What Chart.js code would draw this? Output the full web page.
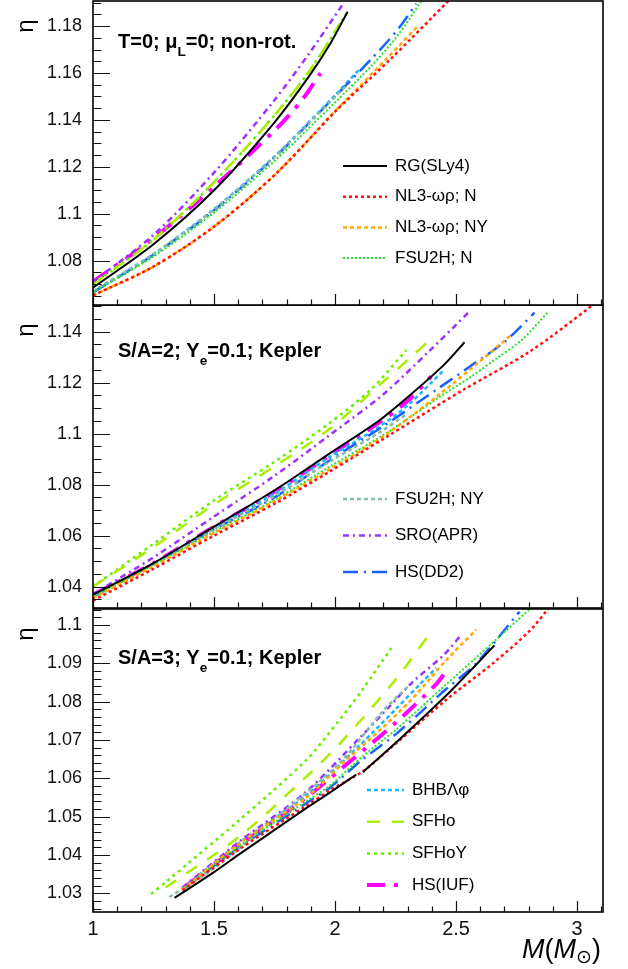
<!DOCTYPE html>
<html>
<head>
<meta charset="utf-8">
<script src="https://cdn.jsdelivr.net/npm/chart.js@4.4.1/dist/chart.umd.min.js"></script>
<style>
  body { margin: 0; background: #fff; width: 628px; height: 969px; position: relative; overflow: hidden; }
  canvas { position: absolute; left: 0; }
</style>
</head>
<body>
<canvas id="c1" width="628" height="306" style="top:0"></canvas>
<canvas id="c2" width="628" height="304" style="top:305px"></canvas>
<canvas id="c3" width="628" height="361" style="top:608px"></canvas>
<script>
// equations of state, in legend order
const eosNames = ['RG(SLy4)', 'NL3-ωρ; N', 'NL3-ωρ; NY', 'FSU2H; N', 'FSU2H; NY', 'SRO(APR)',
  'HS(DD2)', 'BHBΛφ', 'SFHo', 'SFHoY', 'HS(IUF)']

// tick labels
const xTicks = [1, 1.5, 2, 2.5, 3]
const yTicks1 = [1.08, 1.1, 1.12, 1.14, 1.16, 1.18]
const yTicks2 = [1.04, 1.06, 1.08, 1.1, 1.12, 1.14]
const yTicks3 = [1.03, 1.04, 1.05, 1.06, 1.07, 1.08, 1.09, 1.1]

// ---- T=0; mu_L=0; non-rot.   [M, eta]
const t0_rg = [[1, 1.0685], [1.25, 1.087], [1.5, 1.110], [1.75, 1.139], [1.895, 1.159], [1.98, 1.1725], [2.052, 1.1861]]
const t0_nl3_n = [[1, 1.0652], [1.25, 1.0775], [1.5, 1.0945], [1.75, 1.1165], [2.0, 1.1435], [2.06, 1.1495], [2.225, 1.1655], [2.473, 1.1912]]
const t0_nl3_ny = [[1, 1.0652], [1.25, 1.0775], [1.5, 1.0945], [1.75, 1.1165], [2.0, 1.1438], [2.06, 1.150], [2.212, 1.166], [2.34, 1.1797]]
const t0_fsu_n = [[1, 1.0665], [1.25, 1.0818], [1.5, 1.1005], [1.75, 1.1225], [2.0, 1.1475], [2.15, 1.163], [2.255, 1.1755], [2.356, 1.1905]]
const t0_fsu_ny = [[1, 1.067], [1.25, 1.0828], [1.5, 1.1018], [1.75, 1.1242], [2.0, 1.1498], [2.05, 1.155]]
const t0_sro = [[1, 1.071], [1.25, 1.091], [1.5, 1.1175], [1.75, 1.1485], [1.894, 1.1685], [2.03, 1.189]]
const t0_dd2 = [[1, 1.0665], [1.25, 1.0825], [1.5, 1.1015], [1.75, 1.124], [2.0, 1.150], [2.15, 1.166], [2.255, 1.178], [2.335, 1.1895]]
const t0_bhb = [[1, 1.0668], [1.25, 1.0828], [1.5, 1.102], [1.75, 1.1245], [2.0, 1.1505], [2.1, 1.1615]]
const t0_sfho = [[1, 1.070], [1.25, 1.089], [1.5, 1.1135], [1.75, 1.142], [1.895, 1.161], [2.05, 1.1858]]
const t0_sfhoy = [[1, 1.070], [1.25, 1.089], [1.5, 1.1135], [1.75, 1.142], [1.895, 1.161], [2.05, 1.1858]]
const t0_iuf = [[1, 1.071], [1.25, 1.0895], [1.5, 1.1115], [1.75, 1.1355], [1.86, 1.148], [1.94, 1.160]]

// ---- S/A=2; Ye=0.1; Kepler
const s2_rg = [[1, 1.0368], [1.25, 1.0492], [1.5, 1.0635], [1.75, 1.0778], [1.977, 1.0922], [2.184, 1.1053], [2.308, 1.115], [2.45, 1.127], [2.535, 1.1359]]
const s2_nl3_n = [[1, 1.0345], [1.25, 1.047], [1.5, 1.060], [1.75, 1.0725], [1.977, 1.0851], [2.2, 1.098], [2.528, 1.1171], [2.804, 1.1322], [3.065, 1.1505], [3.1, 1.1535]]
const s2_nl3_ny = [[1, 1.0355], [1.25, 1.048], [1.5, 1.061], [1.75, 1.0735], [1.977, 1.086], [2.2, 1.099], [2.432, 1.1155], [2.6, 1.1285], [2.728, 1.1388]]
const s2_fsu_n = [[1, 1.0358], [1.25, 1.0485], [1.5, 1.0615], [1.75, 1.074], [1.977, 1.087], [2.2, 1.0995], [2.432, 1.1144], [2.556, 1.122], [2.666, 1.1294], [2.776, 1.1372], [2.878, 1.1476]]
const s2_fsu_ny = [[1, 1.036], [1.25, 1.0488], [1.5, 1.0625], [1.75, 1.0755], [1.977, 1.089], [2.184, 1.1005], [2.3, 1.108]]
const s2_sro = [[1, 1.037], [1.25, 1.0515], [1.5, 1.0675], [1.75, 1.0835], [1.977, 1.0994], [2.2, 1.1155], [2.39, 1.1325], [2.556, 1.148]]
const s2_dd2 = [[1, 1.036], [1.25, 1.049], [1.5, 1.0625], [1.75, 1.075], [1.977, 1.0895], [2.2, 1.103], [2.43, 1.118], [2.556, 1.1263], [2.7, 1.136], [2.824, 1.1475]]
const s2_bhb = [[1, 1.0362], [1.25, 1.049], [1.5, 1.063], [1.75, 1.0765], [1.977, 1.0908], [2.184, 1.1028], [2.308, 1.1118], [2.445, 1.1245]]
const s2_sfho = [[1, 1.040], [1.25, 1.0555], [1.5, 1.0722], [1.75, 1.0872], [1.977, 1.1018], [2.2, 1.1205], [2.308, 1.1296], [2.41, 1.1384]]
const s2_sfhoy = [[1, 1.040], [1.25, 1.0568], [1.5, 1.0738], [1.75, 1.089], [1.977, 1.1041], [2.15, 1.1175], [2.294, 1.1328]]
const s2_iuf = [[1, 1.0368], [1.25, 1.0492], [1.5, 1.0635], [1.75, 1.0772], [1.977, 1.0915], [2.184, 1.1045], [2.308, 1.1135], [2.397, 1.1225]]

// ---- S/A=3; Ye=0.1; Kepler  (RG(SLy4) has a gap near 2.1)
const s3_rg = [[1.337, 1.0288], [1.5, 1.0355], [1.605, 1.0402], [1.881, 1.0522], [1.977, 1.0562], [2.088, 1.061], [2.1, null], [2.115, 1.0616], [2.253, 1.0694], [2.459, 1.0816], [2.659, 1.0947]]
const s3_nl3_n = [[1.37, 1.0308], [1.605, 1.0415], [1.881, 1.0528], [1.977, 1.0568], [2.114, 1.0618], [2.253, 1.0692], [2.459, 1.0805], [2.652, 1.090], [2.804, 1.0985], [2.88, 1.1042]]
const s3_nl3_ny = [[1.37, 1.031], [1.605, 1.043], [1.881, 1.055], [2.05, 1.065], [2.184, 1.0725], [2.322, 1.081], [2.459, 1.0908], [2.583, 1.0988]]
const s3_fsu_n = [[1.37, 1.031], [1.605, 1.0423], [1.881, 1.054], [1.977, 1.058], [2.115, 1.0658], [2.253, 1.0728], [2.459, 1.0845], [2.583, 1.0915], [2.81, 1.1045]]
const s3_fsu_ny = [[1.316, 1.029], [1.5, 1.0365], [1.742, 1.049], [2.019, 1.064], [2.197, 1.0775], [2.308, 1.0844]]
const s3_sro = [[1.37, 1.0315], [1.605, 1.0435], [1.881, 1.0565], [2.101, 1.0705], [2.184, 1.076], [2.32, 1.0851], [2.446, 1.092], [2.521, 1.0974]]
const s3_dd2 = [[1.37, 1.031], [1.605, 1.042], [1.881, 1.0535], [1.977, 1.0575], [2.115, 1.065], [2.253, 1.0716], [2.459, 1.0833], [2.583, 1.090], [2.762, 1.1035]]
const s3_bhb = [[1.37, 1.0312], [1.605, 1.0432], [1.881, 1.0555], [2.1, 1.0685], [2.25, 1.078], [2.35, 1.0845], [2.418, 1.0888]]
const s3_sfho = [[1.30, 1.0315], [1.605, 1.0448], [1.881, 1.0604], [2.019, 1.069], [2.253, 1.086], [2.39, 1.0977]]
const s3_sfhoy = [[1.24, 1.0298], [1.302, 1.033], [1.605, 1.0491], [1.881, 1.0648], [2.019, 1.0753], [2.115, 1.0833], [2.232, 1.094]]
const s3_iuf = [[1.37, 1.0312], [1.605, 1.0425], [1.881, 1.055], [2.06, 1.0643], [2.25, 1.0745], [2.418, 1.0846], [2.466, 1.0886]]

// line styles
const eosColors = ['#000000', '#ff1010', '#ffaa00', '#22e622', '#88bba8', '#9933ff',
  '#1a62ff', '#19b5ff', '#aaee00', '#66ee00', '#ff00ff']
const eosDash = [[], [3, 3], [4, 3], [2, 2], [4, 3], [6, 4, 2, 4],
  [15, 6, 2, 6], [4, 3], [13, 12], [3, 4], [18, 9, 4, 9]]
const eosWidth = [2, 2.5, 2.5, 2, 2.5, 2.5, 2.5, 2.5, 2.5, 2.5, 4]

const FONT = '"Liberation Sans", Arial, sans-serif'

function makeSets(curves) {
  return curves.map((pts, i) => ({
    label: eosNames[i],
    data: pts.map(p => ({ x: p[0], y: p[1] })),
    borderColor: eosColors[i],
    borderWidth: eosWidth[i],
    borderDash: eosDash[i],
    pointRadius: 0,
    fill: false,
    tension: 0.3,
    spanGaps: false,
    clip: 0
  }))
}

function richText(ctx, x, y, parts, size, bold) {
  parts.forEach(p => {
    const s = p.sub ? size * 0.68 : size
    ctx.font = (bold ? 'bold ' : '') + s + 'px ' + FONT
    ctx.fillText(p.t, x, p.sub ? y + size * 0.42 : y)
    x += ctx.measureText(p.t).width
  })
}

// ROOT-like frame: inward ticks, box, panel label, legend, eta title
const rootFrame = {
  id: 'rootFrame',
  afterDatasetsDraw(chart, args, o) {
    const ctx = chart.ctx, a = chart.chartArea
    const xs = chart.scales.x, ys = chart.scales.y
    ctx.save()
    ctx.strokeStyle = '#111'
    ctx.lineWidth = 1.2
    ctx.beginPath()
    // y ticks on the left
    for (let k = Math.ceil(ys.min / o.yMinor - 1e-6); k * o.yMinor <= ys.max + 1e-9; k++) {
      const v = k * o.yMinor
      const major = o.yTicks.some(t => Math.abs(t - v) < 1e-7)
      const py = Math.round(ys.getPixelForValue(v)) + 0.5
      ctx.moveTo(a.left, py)
      ctx.lineTo(a.left + (major ? 17 : 8.5), py)
    }
    // x ticks on the bottom
    for (let k = Math.ceil(xs.min / 0.1 - 1e-6); k * 0.1 <= xs.max + 1e-9; k++) {
      const v = k * 0.1
      const major = xTicks.some(t => Math.abs(t - v) < 1e-7)
      const px = Math.round(xs.getPixelForValue(v)) + 0.5
      ctx.moveTo(px, a.bottom)
      ctx.lineTo(px, a.bottom - (major ? 11 : 5.5))
    }
    ctx.stroke()
    ctx.strokeStyle = '#000'
    ctx.lineWidth = 1.6
    ctx.strokeRect(a.left, a.top, a.right - a.left, a.bottom - a.top)

    // panel label
    ctx.fillStyle = '#000'
    ctx.textAlign = 'left'
    ctx.textBaseline = 'alphabetic'
    richText(ctx, 118, a.top + o.labelY, o.label, 20, true)

    // eta title
    ctx.save()
    ctx.translate(26, a.top + 25)
    ctx.rotate(-Math.PI / 2)
    ctx.font = '24px ' + FONT
    ctx.textAlign = 'center'
    ctx.textBaseline = 'middle'
    ctx.fillText('η', 0, 0)
    ctx.restore()

    // legend
    o.legend.forEach((idx, r) => {
      const ds = chart.data.datasets[idx]
      const y = a.top + o.legY + r * o.legStep
      ctx.beginPath()
      ctx.setLineDash(ds.borderDash)
      ctx.strokeStyle = ds.borderColor
      ctx.lineWidth = ds.borderWidth
      ctx.moveTo(o.legX, y)
      ctx.lineTo(o.legX + o.legLen, y)
      ctx.stroke()
      ctx.setLineDash([])
      ctx.fillStyle = '#000'
      ctx.font = '17px ' + FONT
      ctx.textBaseline = 'middle'
      ctx.fillText(ds.label, o.legX + o.legLen + 8, y)
    })

    // x axis title on the last panel
    if (o.xTitle) {
      const size = 27
      const parts = [['M', true, size, 0], ['(', false, size, 0], ['M', true, size, 0], ['⊙', false, 19, 5], [')', false, size, 0]]
      let w = 0
      parts.forEach(p => { ctx.font = (p[1] ? 'italic ' : '') + p[2] + 'px ' + FONT; w += ctx.measureText(p[0]).width })
      let x = 601 - w
      const y = chart.height - 11
      ctx.textBaseline = 'alphabetic'
      parts.forEach(p => {
        ctx.font = (p[1] ? 'italic ' : '') + p[2] + 'px ' + FONT
        ctx.fillText(p[0], x, y + p[3])
        x += ctx.measureText(p[0]).width
      })
    }
    ctx.restore()
  }
}

function makePanel(id, curves, yMin, yMax, yTicks, yMinor, frame, showX, pad) {
  return new Chart(document.getElementById(id), {
    type: 'line',
    data: { datasets: makeSets(curves) },
    options: {
      responsive: false,
      animation: false,
      layout: { padding: { left: 0, right: 25, top: pad[0], bottom: pad[1] } },
      plugins: {
        legend: { display: false },
        tooltip: { enabled: false },
        rootFrame: Object.assign({ yTicks: yTicks, yMinor: yMinor }, frame)
      },
      scales: {
        x: {
          type: 'linear',
          min: 1,
          max: 3.107,
          display: showX,
          afterBuildTicks: s => { s.ticks = xTicks.map(v => ({ value: v })) },
          afterFit: s => {
            s.height = showX ? 57 : 0
            s.paddingLeft = 0
            s.paddingRight = 0
          },
          ticks: { font: { size: 20, family: FONT }, color: '#111', padding: 5, maxRotation: 0, autoSkip: false, callback: v => String(v) },
          grid: { display: false, drawTicks: false },
          border: { display: false }
        },
        y: {
          type: 'linear',
          min: yMin,
          max: yMax,
          afterBuildTicks: s => { s.ticks = yTicks.map(v => ({ value: v })) },
          afterFit: s => {
            s.width = 93
            s.paddingTop = 0
            s.paddingBottom = 0
          },
          ticks: { font: { size: 18, family: FONT }, color: '#111', padding: 11, callback: v => String(v) },
          grid: { display: false, drawTicks: false },
          border: { display: false }
        }
      }
    },
    plugins: [rootFrame]
  })
}

makePanel('c1',
  [t0_rg, t0_nl3_n, t0_nl3_ny, t0_fsu_n, t0_fsu_ny, t0_sro, t0_dd2, t0_bhb, t0_sfho, t0_sfhoy, t0_iuf],
  1.0611, 1.1907, yTicks1, 0.005,
  { label: [{ t: 'T=0; μ' }, { t: 'L', sub: true }, { t: '=0; non-rot.' }], labelY: 47,
    legend: [0, 1, 2, 3], legX: 343, legLen: 44, legY: 165, legStep: 30.7 },
  false, [1, 1])

makePanel('c2',
  [s2_rg, s2_nl3_n, s2_nl3_ny, s2_fsu_n, s2_fsu_ny, s2_sro, s2_dd2, s2_bhb, s2_sfho, s2_sfhoy, s2_iuf],
  1.0316, 1.1505, yTicks2, 0.005,
  { label: [{ t: 'S/A=2; Y' }, { t: 'e', sub: true }, { t: '=0.1; Kepler' }], labelY: 51.5,
    legend: [4, 5, 6], legX: 343, legLen: 44, legY: 194, legStep: 36.5 },
  false, [0, 1])

makePanel('c3',
  [s3_rg, s3_nl3_n, s3_nl3_ny, s3_fsu_n, s3_fsu_ny, s3_sro, s3_dd2, s3_bhb, s3_sfho, s3_sfhoy, s3_iuf],
  1.0251, 1.1042, yTicks3, 0.002,
  { label: [{ t: 'S/A=3; Y' }, { t: 'e', sub: true }, { t: '=0.1; Kepler' }], labelY: 54.5,
    legend: [7, 8, 9, 10], legX: 367, legLen: 37, legY: 181, legStep: 31.7, xTitle: true },
  true, [1, 0])
</script>
</body>
</html>
